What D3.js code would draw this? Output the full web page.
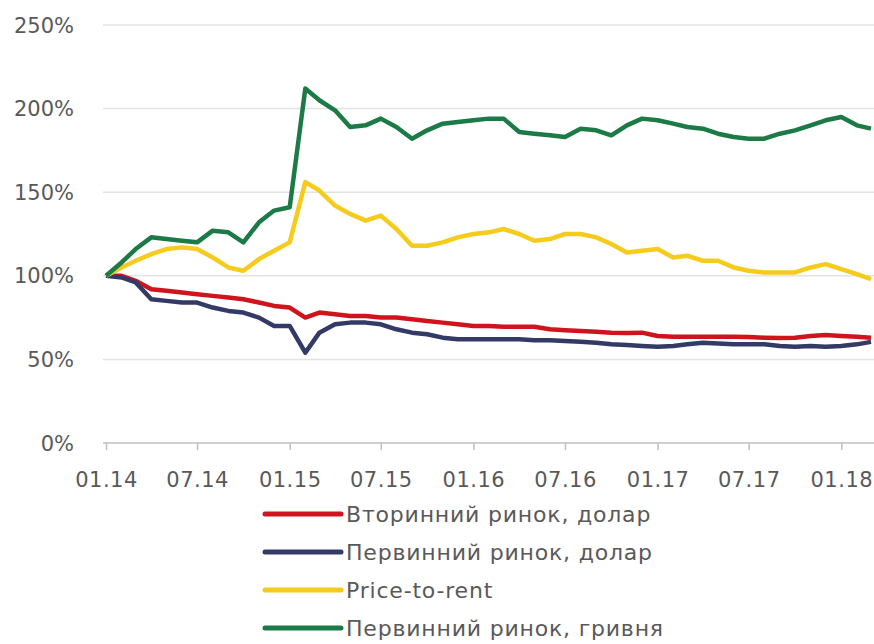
<!DOCTYPE html>
<html>
<head>
<meta charset="utf-8">
<script src="https://cdn.jsdelivr.net/npm/d3@7"></script>
<style>
  body { margin: 0; background: #fff; }
  text { font-family: "DejaVu Sans", "Open Sans", sans-serif; fill: #595959; }
</style>
</head>
<body>
<div id="chart"></div>
<script>
// monthly, 01.14 .. 03.18, index 01.14 = 100%
var months = d3.timeMonths(new Date(2014, 0, 1), new Date(2018, 3, 1));

var secondaryUsd = [100, 100, 97, 92, 91, 90, 89, 88, 87, 86, 84, 82, 81, 75, 78, 77, 76, 76, 75, 75,
    74, 73, 72, 71, 70, 70, 69.5, 69.5, 69.5, 68, 67.5, 67, 66.5, 66, 65.8, 66, 64, 63.5, 63.5, 63.5,
    63.5, 63.5, 63.4, 63, 62.8, 63, 64, 64.6, 64, 63.5, 63];
var primaryUsd = [100, 99, 96, 86, 85, 84, 84, 81, 79, 78, 75, 70, 70, 54, 66, 71, 72, 72, 71, 68,
    66, 65, 63, 62, 62, 62, 62, 62, 61.5, 61.5, 61, 60.5, 60, 59, 58.6, 58, 57.5, 58, 59, 60,
    59.5, 59, 59, 59, 58, 57.5, 58, 57.5, 58, 59, 60.5];
var priceToRent = [100, 105, 109, 113, 116, 117, 116, 111, 105, 103, 110, 115, 120, 156, 151, 142, 137, 133, 136, 128,
    118, 118, 120, 123, 125, 126, 128, 125, 121, 122, 125, 125, 123, 119, 114, 115, 116, 111, 112, 109,
    109, 105, 103, 102, 102, 102, 105, 107, 104, 101, 98];
var primaryUah = [100, 108, 116, 123, 122, 121, 120, 127, 126, 120, 132, 139, 141, 212, 205, 199, 189, 190, 194, 189,
    182, 187, 191, 192, 193, 194, 194, 186, 185, 184, 183, 188, 187, 184, 190, 194, 193, 191, 189, 188,
    185, 183, 182, 182, 185, 187, 190, 193, 195, 190, 188];

var seriesNames = ['Вторинний ринок, долар', 'Первинний ринок, долар', 'Price-to-rent', 'Первинний ринок, гривня'];
var seriesColors = ['#d0141e', '#343a66', '#f5cb1c', '#1b7a46'];
var seriesValues = [secondaryUsd, primaryUsd, priceToRent, primaryUah];
var yTicks = [0, 0.5, 1, 1.5, 2, 2.5];

var width = 874, height = 644;

var svg = d3.select('#chart').append('svg')
    .attr('width', width)
    .attr('height', height);

var x = d3.scaleTime()
    .domain([months[0], months[months.length - 1]])
    .range([106, 871]);
var y = d3.scaleLinear()
    .domain([0, 2.5])
    .range([443, 25]);

// gridlines
svg.selectAll('line.grid')
    .data(yTicks.slice(1))
    .enter()
    .append('line')
    .attr('class', 'grid')
    .attr('x1', 103).attr('x2', width)
    .attr('y1', function (d) { return y(d); })
    .attr('y2', function (d) { return y(d); })
    .attr('stroke', '#e3e3e3')
    .attr('stroke-width', 1.5);

// y labels
svg.selectAll('text.ylab')
    .data(yTicks)
    .enter()
    .append('text')
    .attr('class', 'ylab')
    .attr('x', 74)
    .attr('y', function (d) { return y(d); })
    .attr('dy', '0.36em')
    .attr('text-anchor', 'end')
    .style('font-size', '21px')
    .text(d3.format('.0%'));

// x axis
var xAxis = d3.axisBottom(x)
    .ticks(d3.timeMonth.every(6))
    .tickFormat(d3.timeFormat('%m.%y'))
    .tickSize(7)
    .tickSizeOuter(0)
    .tickPadding(22);

var gx = svg.append('g')
    .attr('transform', 'translate(0,' + y(0) + ')')
    .call(xAxis);
gx.select('.domain').remove();
gx.append('line')
    .attr('x1', 103).attr('x2', width)
    .attr('stroke', '#bfbfbf').attr('stroke-width', 1.5);
gx.selectAll('.tick line').attr('stroke', '#bfbfbf').attr('stroke-width', 1.5);
gx.selectAll('.tick text')
    .style('font-size', '21px')
    .style('letter-spacing', '0.5px')
    .attr('fill', '#595959');

// lines
var line = d3.line()
    .x(function (d, i) { return x(months[i]); })
    .y(function (d) { return y(d / 100); });

svg.selectAll('path.series')
    .data(seriesValues)
    .enter()
    .append('path')
    .attr('class', 'series')
    .attr('d', line)
    .attr('fill', 'none')
    .attr('stroke', function (d, i) { return seriesColors[i]; })
    .attr('stroke-width', 4.5)
    .attr('stroke-linejoin', 'round');

// legend
var legend = svg.selectAll('g.legend')
    .data(seriesNames)
    .enter()
    .append('g')
    .attr('class', 'legend')
    .attr('transform', function (d, i) { return 'translate(265,' + (514 + i * 38) + ')'; });

legend.append('line')
    .attr('x1', 0).attr('x2', 76)
    .attr('stroke', function (d, i) { return seriesColors[i]; })
    .attr('stroke-width', 5)
    .attr('stroke-linecap', 'round');

legend.append('text')
    .attr('x', 81)
    .attr('dy', '0.36em')
    .style('font-size', '22px')
    .style('letter-spacing', '0.8px')
    .attr('fill', '#404040')
    .text(function (d) { return d; });
</script>
</body>
</html>
